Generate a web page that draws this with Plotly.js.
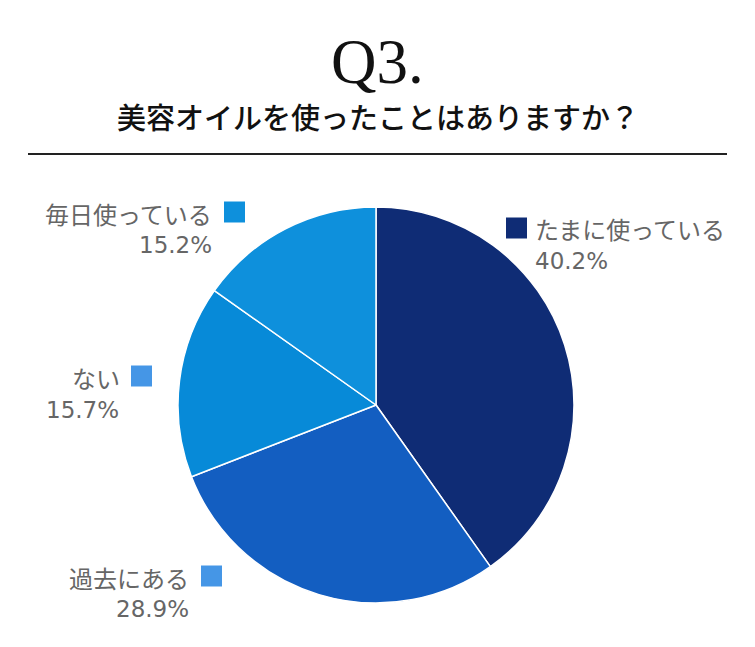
<!DOCTYPE html>
<html>
<head>
<meta charset="utf-8">
<script src="https://cdn.plot.ly/plotly-3.0.1.min.js"></script>
<style>html,body{margin:0;padding:0;background:#fff;}#chart{width:755px;height:647px;}</style>
</head>
<body>
<div id="chart"></div>
<script>
const categories = ["たまに使っている", "過去にある", "ない", "毎日使っている"];
const values = [40.2, 28.9, 15.7, 15.2];
const sliceColors = ["#0f2c75", "#135ec1", "#078ad8", "#0e90dc"];
const keyColors = ["#0f2c75", "#4596e6", "#4596e6", "#0e90dc"];
const titleText = "Q3.";
const subtitleText = "美容オイルを使ったことはありますか？";

const W = 755, H = 647;
const px = x => x / W;
const py = y => 1 - y / H;

const trace = {
  type: "pie",
  values: values,
  labels: categories,
  sort: false,
  direction: "clockwise",
  rotation: 0,
  textinfo: "none",
  hoverinfo: "label+percent",
  marker: { colors: sliceColors, line: { color: "#ffffff", width: 1.5 } },
  domain: { x: [px(178), px(574)], y: [py(603), py(207)] },
  showlegend: false
};

const labelPos = [
  { x: 533, y: 228, anchor: "left",  px2: 533, py2: 261, sq: 506, sqy: 228 },
  { x: 191, y: 577, anchor: "right", px2: 191, py2: 609, sq: 201, sqy: 576 },
  { x: 122, y: 377, anchor: "right", px2: 121, py2: 410, sq: 131, sqy: 376 },
  { x: 214, y: 213, anchor: "right", px2: 214, py2: 245, sq: 224, sqy: 212 }
];

const labelFont = { family: "Noto Sans CJK JP, Noto Sans, sans-serif", size: 24, color: "#666666" };
const numFont = { family: "DejaVu Sans, Noto Sans, sans-serif", size: 23, color: "#666666" };
const annotations = [
  { text: titleText, x: 0.5, y: py(62), xref: "paper", yref: "paper", showarrow: false,
    xanchor: "center", yanchor: "middle",
    font: { family: "Liberation Serif, DejaVu Serif, serif", size: 63, color: "#111111" } },
  { text: subtitleText, x: 0.5, y: py(116), xref: "paper", yref: "paper", showarrow: false,
    xanchor: "center", yanchor: "middle",
    font: { family: "Noto Sans CJK JP, sans-serif", size: 29, color: "#111111", weight: 500 } }
];
const shapes = [
  { type: "line", xref: "paper", yref: "paper", x0: px(28), x1: px(727), y0: py(154), y1: py(154),
    line: { color: "#222222", width: 2 } }
];
categories.forEach((c, i) => {
  const p = labelPos[i];
  annotations.push({ text: c, x: px(p.x), y: py(p.y), xref: "paper", yref: "paper", showarrow: false,
    xanchor: p.anchor, yanchor: "middle", font: labelFont });
  annotations.push({ text: values[i].toFixed(1) + "%", x: px(p.px2), y: py(p.py2), xref: "paper", yref: "paper",
    showarrow: false, xanchor: p.anchor, yanchor: "middle", font: numFont });
  shapes.push({ type: "rect", xref: "paper", yref: "paper",
    x0: px(p.sq), x1: px(p.sq + 21), y0: py(p.sqy - 10.5), y1: py(p.sqy + 10.5),
    fillcolor: keyColors[i], line: { width: 0 } });
});

const layout = {
  width: W, height: H,
  margin: { l: 0, r: 0, t: 0, b: 0 },
  paper_bgcolor: "#ffffff",
  plot_bgcolor: "#ffffff",
  annotations: annotations,
  shapes: shapes,
  showlegend: false
};

Plotly.newPlot("chart", [trace], layout, { displayModeBar: false, staticPlot: true });
</script>
</body>
</html>
